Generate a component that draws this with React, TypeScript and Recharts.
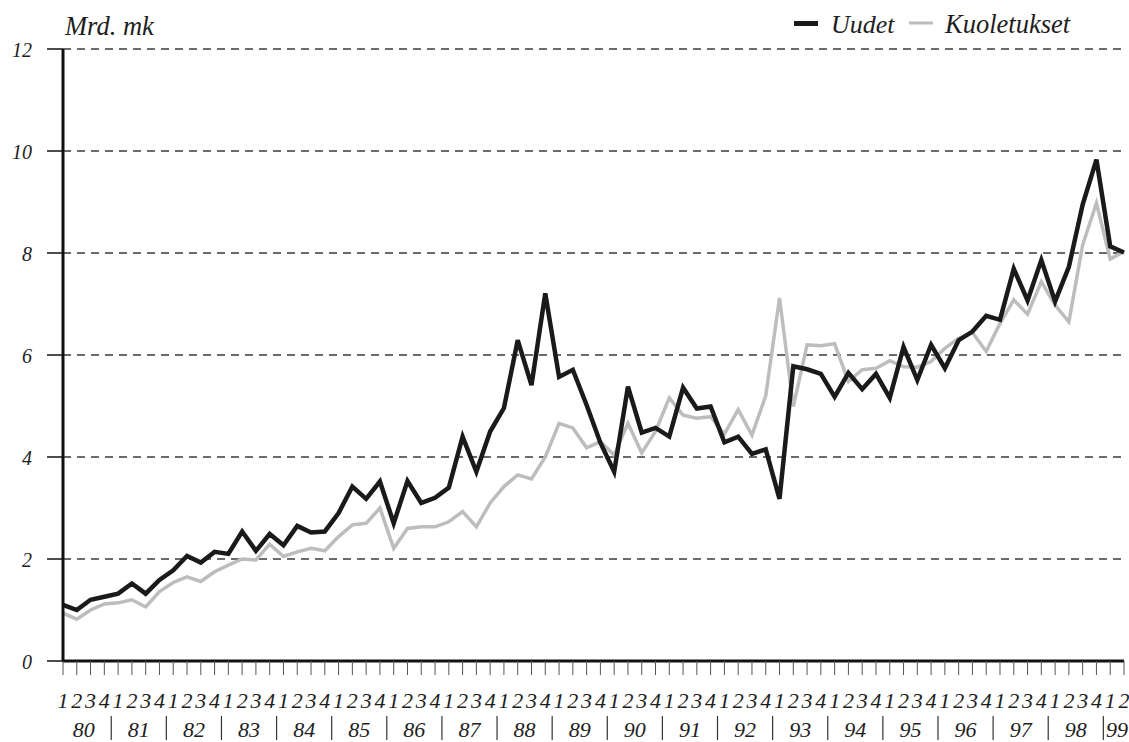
import React from 'react';
import { LineChart, Line, XAxis, YAxis, CartesianGrid, Legend } from 'recharts';

const quarters = ['1', '2', '3', '4'];
const years = ['80', '81', '82', '83', '84', '85', '86', '87', '88', '89', '90', '91', '92', '93', '94', '95', '96', '97', '98', '99'];

const uudet = [
  1.10, 1.00, 1.20, 1.26, 1.32, 1.52, 1.32, 1.59,
  1.78, 2.06, 1.93, 2.14, 2.10, 2.54, 2.16, 2.49,
  2.27, 2.65, 2.52, 2.54, 2.90, 3.42, 3.18, 3.52,
  2.70, 3.53, 3.10, 3.20, 3.40, 4.40, 3.71, 4.50,
  4.96, 6.29, 5.41, 7.21, 5.57, 5.71, 5.02, 4.28,
  3.71, 5.38, 4.48, 4.57, 4.40, 5.36, 4.95, 4.99,
  4.29, 4.40, 4.06, 4.15, 3.18, 5.78, 5.72, 5.63,
  5.18, 5.65, 5.33, 5.63, 5.16, 6.16, 5.51, 6.20,
  5.74, 6.29, 6.46, 6.77, 6.69, 7.69, 7.07, 7.86,
  7.05, 7.73, 8.95, 9.83, 8.13, 8.01,
];

const kuoletukset = [
  0.94, 0.82, 1.00, 1.12, 1.14, 1.20, 1.06, 1.36,
  1.54, 1.65, 1.56, 1.75, 1.88, 2.00, 1.98, 2.29,
  2.05, 2.14, 2.21, 2.16, 2.44, 2.67, 2.70, 3.00,
  2.21, 2.60, 2.63, 2.63, 2.73, 2.93, 2.63, 3.10,
  3.42, 3.65, 3.57, 4.00, 4.66, 4.57, 4.18, 4.30,
  4.04, 4.66, 4.08, 4.50, 5.16, 4.82, 4.76, 4.79,
  4.45, 4.93, 4.43, 5.20, 7.12, 4.99, 6.20, 6.18,
  6.22, 5.48, 5.71, 5.74, 5.89, 5.77, 5.76, 5.87,
  6.13, 6.33, 6.44, 6.07, 6.62, 7.08, 6.80, 7.44,
  6.98, 6.65, 8.16, 8.98, 7.88, 8.03,
];

const yTicks = [0, 2, 4, 6, 8, 10, 12];
const seriesNames = { uudet: 'Uudet', kuoletukset: 'Kuoletukset' };
const unitLabel = 'Mrd. mk';

const data = uudet.map((v, i) => ({ i, uudet: v, kuoletukset: kuoletukset[i] }));
const lastIdx = data.length - 1;
const qTicks = data.map((d) => d.i);

const yearCenters = years.map((_, k) => (4 * k + Math.min(4 * k + 3, lastIdx)) / 2);
const yearBounds = years.slice(1).map((_, k) => 4 * (k + 1) - 0.5);
const yearAxisTicks = [...yearCenters, ...yearBounds].sort((a, b) => a - b);

const FONT = '"Liberation Serif", "DejaVu Serif", serif';
const TEXT = '#1e1e1e';
const txtStyle = (size: number): React.CSSProperties => ({
  fontFamily: FONT,
  fontStyle: 'italic',
  fontSize: size,
  fill: TEXT,
});

const QuarterTick = (props: any) => {
  const { x, y, payload } = props;
  return (
    <text x={x} y={y + 31} textAnchor="middle" style={txtStyle(22)}>
      {quarters[payload.value % 4]}
    </text>
  );
};

const YearTick = (props: any) => {
  const { x, y, payload } = props;
  const ci = yearCenters.indexOf(payload.value);
  if (ci >= 0) {
    return (
      <text x={x} y={y + 36} textAnchor="middle" style={txtStyle(22)}>
        {years[ci]}
      </text>
    );
  }
  return <line x1={x} x2={x} y1={y + 15} y2={y + 39} stroke="#333" strokeWidth={1.2} />;
};

const ValueTick = (props: any) => {
  const { x, y, payload } = props;
  return (
    <text x={x} y={y + 8} textAnchor="end" style={txtStyle(20)}>
      {payload.value}
    </text>
  );
};

const LegendContent = (props: any) => {
  const payload = props.payload || [];
  const byKey: Record<string, any> = {};
  payload.forEach((p: any) => { byKey[p.dataKey] = p; });
  const u = byKey['uudet'];
  const k = byKey['kuoletukset'];
  return (
    <svg width={1129} height={45} style={{ display: 'block' }}>
      <text x={65} y={35} style={txtStyle(26.5)}>{unitLabel}</text>
      <line x1={794} x2={818} y1={23.5} y2={23.5} stroke={u ? u.color : '#1a1a1a'} strokeWidth={5} />
      <text x={831} y={33} style={txtStyle(26)}>{u ? u.value : seriesNames.uudet}</text>
      <line x1={909} x2={933} y1={23} y2={23} stroke={k ? k.color : '#bbb'} strokeWidth={3} />
      <text x={945} y={33} style={txtStyle(26.5)}>{k ? k.value : seriesNames.kuoletukset}</text>
    </svg>
  );
};

export default function App() {
  return (
    <div style={{ position: 'absolute', left: 0, top: 0, background: '#fff' }}>
      <LineChart width={1129} height={742} data={data} margin={{ top: 49, right: 5, left: 0, bottom: 0 }}>
        <CartesianGrid horizontal vertical={false} strokeDasharray="8 6" stroke="#3a3a3a" strokeWidth={1.3} />
        <XAxis
          xAxisId="q"
          dataKey="i"
          type="number"
          domain={[0, lastIdx]}
          ticks={qTicks}
          interval={0}
          height={40}
          axisLine={{ stroke: '#111', strokeWidth: 3 }}
          tickLine={{ stroke: '#555', strokeWidth: 1 }}
          tickSize={14}
          tickMargin={2}
          tick={<QuarterTick />}
          allowDecimals={false}
        />
        <XAxis
          xAxisId="yr"
          dataKey="i"
          type="number"
          domain={[0, lastIdx]}
          ticks={yearAxisTicks}
          interval={0}
          height={41}
          axisLine={false}
          tickLine={false}
          tickSize={0}
          tickMargin={0}
          tick={<YearTick />}
        />
        <YAxis
          type="number"
          domain={[0, 12]}
          ticks={yTicks}
          interval={0}
          width={63}
          axisLine={{ stroke: '#111', strokeWidth: 3 }}
          tickLine={{ stroke: '#111', strokeWidth: 1.5 }}
          tickSize={16}
          tickMargin={15}
          tick={<ValueTick />}
        />
        <Legend
          layout="horizontal"
          verticalAlign="middle"
          align="center"
          content={<LegendContent />}
          wrapperStyle={{ top: 0, left: 0, width: 1129, height: 45 }}
        />
        <Line
          xAxisId="q"
          type="linear"
          dataKey="kuoletukset"
          name={seriesNames.kuoletukset}
          stroke="#bdbdbd"
          strokeWidth={3.5}
          dot={false}
          activeDot={false}
          isAnimationActive={false}
        />
        <Line
          xAxisId="q"
          type="linear"
          dataKey="uudet"
          name={seriesNames.uudet}
          stroke="#1a1a1a"
          strokeWidth={4.5}
          dot={false}
          activeDot={false}
          isAnimationActive={false}
        />
      </LineChart>
    </div>
  );
}
